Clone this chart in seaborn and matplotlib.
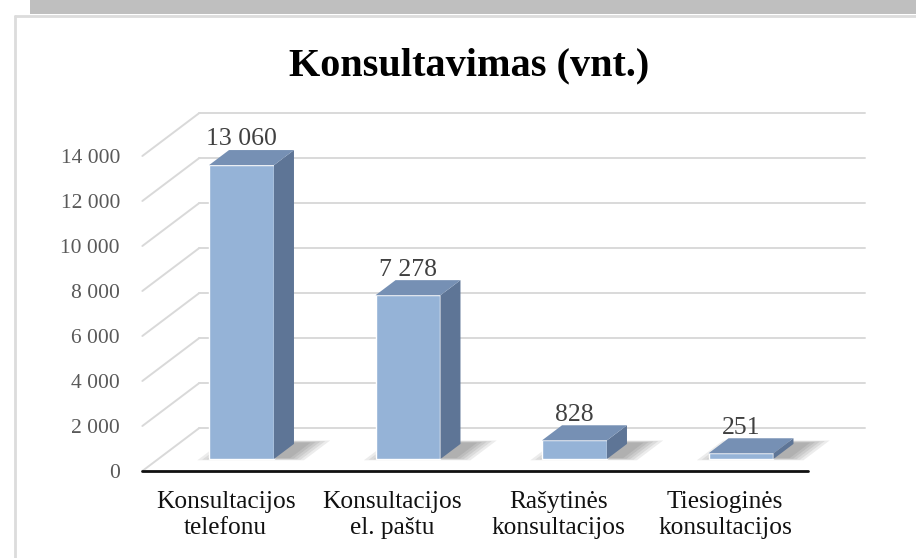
import matplotlib
matplotlib.use("Agg")
import matplotlib.pyplot as plt
from matplotlib.patches import Polygon, Rectangle
from matplotlib.lines import Line2D
import seaborn as sns
import pandas as pd

# data
categories = [
    "Konsultacijos\ntelefonu",
    "Konsultacijos\nel. paštu",
    "Rašytinės\nkonsultacijos",
    "Tiesioginės\nkonsultacijos",
]
values = [13060, 7278, 828, 251]
value_labels = ["13 060", "7 278", "828", "251"]
tick_values = [0, 2000, 4000, 6000, 8000, 10000, 12000, 14000]
tick_labels = ["0", "2 000", "4 000", "6 000", "8 000", "10 000", "12 000", "14 000"]
title = "Konsultavimas (vnt.)"

# colours
FRONT = "#95B3D7"
SIDE = "#5E7596"
TOP = "#7690B4"
GRID = "#D9D9D9"

# layout (pixels, 100 dpi)
W, H, DPI = 916, 558, 100
PX_CAT = 166.5  # pixels per category
PX_VAL = 0.0225  # pixels per unit
X0, Y0 = 241.5, 459  # first bar centre / bar bottom, pixel coords
DX_PX, DY_PX = 57, 43  # pseudo 3d depth shift (front floor -> back wall)
D0, D1 = 0.279, 0.63  # bar front / back depth
BAR_W = 0.39
KX = DX_PX / PX_CAT
KV = DY_PX / PX_VAL


def proj(x, v, d):
    """Map (category x, value, depth) to data coords of the bar front plane."""
    return x + (d - D0) * KX, v + (d - D0) * KV


sns.set_theme(style="white")
plt.rcParams["font.family"] = ["Liberation Serif", "DejaVu Serif"]

fig = plt.figure(figsize=(W / DPI, H / DPI), dpi=DPI)
ax_l, ax_r, ax_t, ax_b = 128, 880, 100, 485
ax = fig.add_axes([ax_l / W, 1 - ax_b / H, (ax_r - ax_l) / W, (ax_b - ax_t) / H])

# gridlines on back wall and left side wall
for v in tick_values:
    xa, ya = proj(-0.5, v, 1)
    xb, yb = proj(3.5, v, 1)
    ax.plot([xa, xb], [ya, yb], color=GRID, lw=1.4, zorder=0, clip_on=False)
    xa, ya = proj(-0.5, v, 0)
    xb, yb = proj(-0.5, v, 1)
    ax.plot([xa, xb], [ya, yb], color=GRID, lw=1.4, zorder=0, clip_on=False)

# soft shadows on the floor
for i, v in enumerate(values):
    xl, xr = i - BAR_W / 2, i + BAR_W / 2
    for k in range(5):
        e = 0.025 * k
        pts = [proj(xl + 0.04 - e, 0, D0 + 0.02 - e / 2),
               proj(xr + 0.09 + e, 0, D0 + 0.02 - e / 2),
               proj(xr + 0.09 + e, 0, D1 + 0.03 + e / 2),
               proj(xl + 0.04 - e, 0, D1 + 0.03 + e / 2)]
        ax.add_patch(Polygon(pts, closed=True, color="#303030", alpha=0.09,
                             lw=0, zorder=1))

df = pd.DataFrame({"kategorija": categories, "kiekis": values})
sns.barplot(data=df, x="kategorija", y="kiekis", color=FRONT, saturation=1,
            width=BAR_W, ax=ax, zorder=3)

for i, v in enumerate(values):
    xl, xr = i - BAR_W / 2, i + BAR_W / 2
    side = [proj(xr, 0, D0), proj(xr, 0, D1), proj(xr, v, D1), proj(xr, v, D0)]
    top = [proj(xl, v, D0), proj(xr, v, D0), proj(xr, v, D1), proj(xl, v, D1)]
    ax.add_patch(Polygon(side, closed=True, color=SIDE, lw=0, zorder=3))
    ax.add_patch(Polygon(top, closed=True, color=TOP, lw=0, zorder=3))
    ax.annotate(value_labels[i], (i, v), xytext=(0, 18.5), textcoords="offset points",
                ha="center", va="center", fontsize=18.5, color="#404040", zorder=5)

# front floor edge
xa, ya = proj(-0.5, 0, 0)
xb, yb = proj(3.5, 0, 0)
ax.plot([xa, xb], [ya, yb], color="#111111", lw=2.0, zorder=4, clip_on=False)

ax.set_xlim((ax_l - X0) / PX_CAT, (ax_r - X0) / PX_CAT)
ax.set_ylim((Y0 - ax_b) / PX_VAL, (Y0 - ax_t) / PX_VAL)

# value axis labels sit on the front edge (depth 0)
ax.set_yticks([proj(0, v, 0)[1] for v in tick_values])
ax.set_yticklabels(tick_labels, fontsize=15.5, color="#595959")

ax.set_xticks([proj(i, 0, 0)[0] for i in range(len(categories))])
ax.set_xticklabels(categories, fontsize=18.3, color="#111111", linespacing=1.22)
ax.tick_params(axis="y", length=0, pad=5.8)
ax.tick_params(axis="x", length=0, pad=4.5)
ax.set_xlabel("")
ax.set_ylabel("")
sns.despine(ax=ax, left=True, bottom=True)
ax.grid(False)
ax.set_facecolor("none")

fig.text(469 / W, 1 - 66 / H, title, ha="center", va="center",
         fontsize=29, fontweight="bold", color="black")

# page frame and the grey strip above it
fig.add_artist(Rectangle((30 / W, 1 - 14 / H), (W - 30) / W, 14 / H,
                         transform=fig.transFigure, color="#BFBFBF", lw=0))
fig.add_artist(Line2D([15 / W, 15 / W], [0, 1 - 15.5 / H],
                      transform=fig.transFigure, color="#DCDCDC", lw=2))
fig.add_artist(Line2D([15 / W, 1], [1 - 15.5 / H, 1 - 15.5 / H],
                      transform=fig.transFigure, color="#DCDCDC", lw=2))

fig.savefig("out.png", dpi=DPI)
